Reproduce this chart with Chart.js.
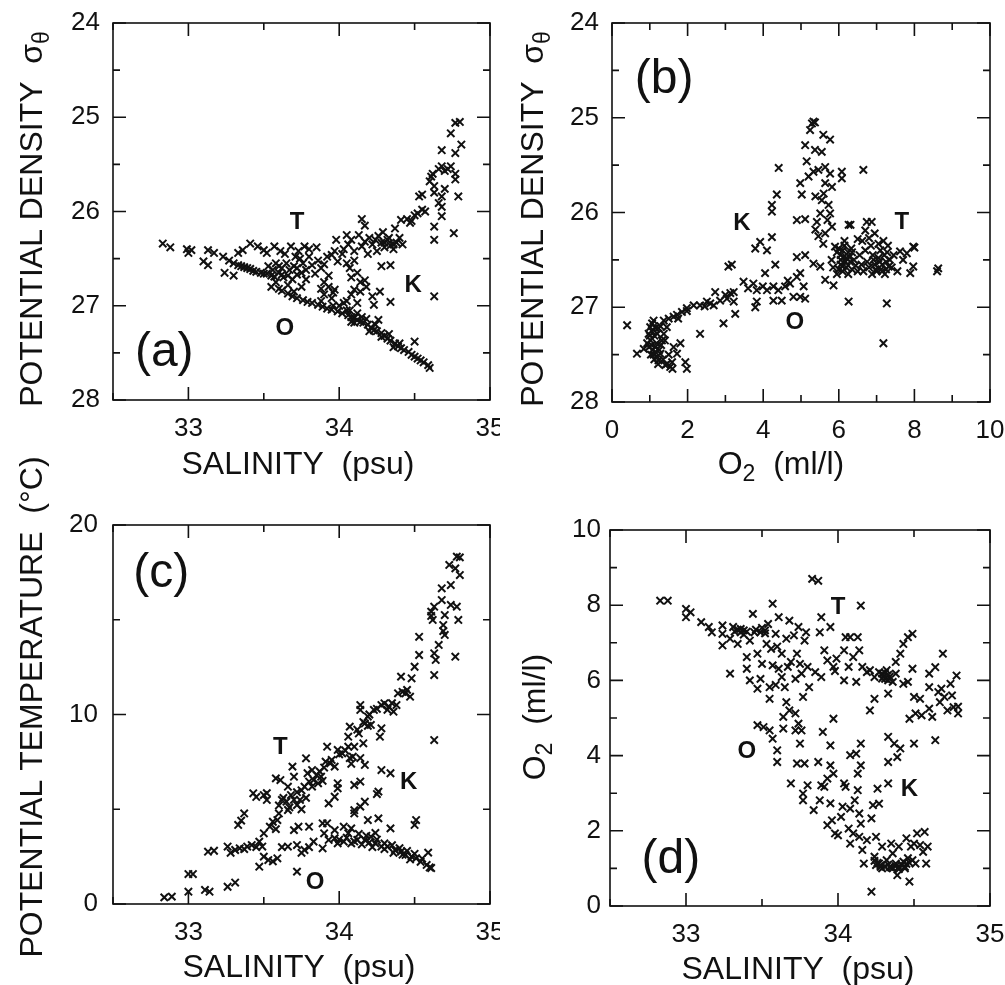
<!DOCTYPE html>
<html>
<head>
<meta charset="utf-8">
<script src="https://cdn.jsdelivr.net/npm/chart.js@4/dist/chart.umd.min.js"></script>
<style>
  body { margin: 0; background: #fff; width: 1005px; height: 985px; position: relative; overflow: hidden; }
  canvas { position: absolute; }
</style>
</head>
<body>
<canvas id="ca" width="500" height="485" style="left:0;top:0"></canvas>
<canvas id="cb" width="505" height="485" style="left:500px;top:0"></canvas>
<canvas id="cc" width="500" height="555" style="left:0;top:430px"></canvas>
<canvas id="cd" width="505" height="545" style="left:500px;top:440px"></canvas>
<script>
// (a) salinity vs potential density
const ptsA = [
  [32.83,26.34],[32.88,26.38],[32.99,26.40],[33.02,26.41],[33.00,26.44],[33.13,26.41],[33.17,26.44],[33.10,26.53],
  [33.13,26.57],[33.23,26.48],[33.24,26.65],[33.30,26.68],[33.27,26.52],[33.33,26.44],[33.36,26.41],[33.41,26.34],
  [33.46,26.37],[33.50,26.41],[33.52,26.44],[33.57,26.37],[33.61,26.42],[33.68,26.37],[33.77,26.37],[33.71,26.48],
  [33.30,26.55],[33.33,26.57],[33.35,26.58],[33.37,26.59],[33.39,26.60],[33.41,26.61],[33.43,26.63],[33.45,26.64],
  [33.48,26.65],[33.50,26.66],[33.52,26.66],[33.55,26.68],[33.57,26.69],
  [33.53,26.58],[33.56,26.62],[33.58,26.55],[33.60,26.65],[33.62,26.60],[33.63,26.70],[33.58,26.75],[33.55,26.80],
  [33.60,26.82],[33.65,26.55],[33.67,26.62],[33.70,26.58],[33.72,26.67],[33.69,26.72],[33.74,26.50],[33.76,26.55],
  [33.78,26.62],[33.80,26.48],[33.82,26.57],[33.84,26.66],[33.86,26.52],[33.88,26.60],[33.90,26.56],[33.92,26.48],
  [33.95,26.46],[33.97,26.42],[33.99,26.53],[33.93,26.68],[33.90,26.75],[33.88,26.82],[33.96,26.86],[33.75,26.80],
  [33.73,26.42],[33.80,26.40],[33.64,26.45],[33.85,26.38],[33.66,26.78],[33.70,26.85],[33.78,26.72],
  [33.60,26.58],[33.62,26.67],[33.66,26.68],[33.72,26.60],[33.75,26.65],
  [34.02,26.45],[34.05,26.55],[34.07,26.60],[34.10,26.52],[34.12,26.65],[34.08,26.70],[34.14,26.75],[34.17,26.73],
  [34.10,26.83],[34.14,26.85],[34.08,26.88],[34.05,26.95],[34.03,26.97],[34.00,27.00],[33.97,26.83],[33.93,26.80],
  [33.90,26.88],[33.95,26.92],[34.12,26.97],[34.23,26.99],[34.26,27.15],[34.28,26.58],[34.34,26.57],[34.27,26.85],
  [34.34,26.96],[34.63,26.90],[34.50,27.38],[34.18,26.80],[34.22,26.90],[34.07,27.05],
  [34.03,26.40],[34.06,26.35],[34.08,26.30],[34.10,26.42],[34.13,26.25],[34.15,26.37],[34.17,26.32],[34.20,26.28],
  [34.22,26.35],[34.24,26.30],[34.26,26.26],[34.28,26.33],[34.30,26.38],[34.32,26.30],[34.34,26.36],[34.36,26.40],
  [34.38,26.33],[34.40,26.28],[34.42,26.35],[34.37,26.18],[34.29,26.22],[34.17,26.15],[34.15,26.08],[34.19,26.45],
  [34.25,26.42],[34.05,26.25],[33.98,26.30],[34.30,26.33],[34.33,26.28],[34.36,26.35],
  [34.41,26.09],[34.45,26.08],[34.48,26.10],[34.50,26.04],[34.52,26.02],[34.55,25.98],[34.53,25.84],[34.55,25.82],
  [34.61,25.63],[34.60,25.68],[34.62,25.60],[34.63,25.73],[34.66,25.55],[34.68,25.52],[34.70,25.57],[34.72,25.55],
  [34.74,25.52],[34.77,25.60],[34.77,25.66],[34.68,25.35],[34.74,25.17],[34.77,25.06],[34.80,25.05],[34.81,25.29],
  [34.77,25.38],[34.63,25.80],[34.66,25.91],[34.68,25.95],[34.68,26.05],[34.63,26.16],[34.63,26.30],[34.76,26.23],
  [34.79,25.84],[34.68,25.84],[34.70,25.76],[34.57,26.00],[34.47,26.12],
  [33.62,26.84],[33.66,26.87],[33.69,26.90],[33.72,26.92],[33.76,26.94],[33.79,26.96],[33.82,26.97],[33.86,26.99],
  [33.89,27.01],[33.92,27.03],[33.95,27.04],[33.99,27.06],[34.02,27.08],[34.06,27.10],[34.08,27.12],[34.10,27.13],
  [34.12,27.15],[34.14,27.17],[34.16,27.18],[34.19,27.20],[34.21,27.23],[34.23,27.26],[34.25,27.27],[34.28,27.29],
  [34.30,27.32],[34.32,27.35],[34.34,27.37],[34.37,27.40],[34.39,27.43],[34.41,27.45],[34.43,27.47],[34.46,27.49],
  [34.48,27.52],[34.50,27.54],[34.52,27.56],[34.54,27.58],[34.56,27.60],[34.59,27.63],[34.60,27.66],
  [34.05,27.05],[34.10,27.18],[34.15,27.12],[34.20,27.27],[34.24,27.20],[34.28,27.33],[34.33,27.30],[34.36,27.44],
  [34.40,27.40],[34.12,27.08],[34.18,27.14],[34.08,27.17],[33.96,27.00],[33.88,26.95]
];

// (b) oxygen vs potential density
const ptsB = [
  [0.40,27.19],[0.66,27.49],[0.84,27.44],[0.93,27.38],[0.97,27.28],[1.01,27.21],[1.06,27.17],[1.10,27.14],
  [1.15,27.42],[1.19,27.52],[1.23,27.56],[1.28,27.49],[1.32,27.35],[1.37,27.28],[1.45,27.21],[1.41,27.61],
  [1.54,27.63],[1.59,27.58],[1.63,27.42],[1.72,27.49],[1.94,27.58],[1.98,27.65],[1.81,27.38],
  [1.00,27.30],[1.02,27.35],[1.05,27.40],[1.08,27.45],[1.10,27.50],[1.05,27.25],[1.12,27.30],[1.15,27.22],
  [1.20,27.28],[1.18,27.38],[1.25,27.45],[1.30,27.40],[1.12,27.55],[1.22,27.60],[1.35,27.55],[1.50,27.50],
  [1.45,27.60],[1.60,27.65],[1.28,27.20],[1.40,27.35],[0.98,27.42],[1.03,27.50],[1.14,27.47],
  [1.23,27.22],[1.37,27.14],[1.50,27.12],[1.63,27.10],[1.72,27.08],[1.85,27.05],[1.98,27.01],[2.16,26.98],
  [2.33,26.98],[2.51,26.94],[2.69,26.98],[2.86,26.93],[3.04,26.91],[3.13,26.85],[3.22,26.84],[3.22,26.94],
  [3.26,27.07],[2.95,27.17],[2.33,27.28],[2.73,26.84],[2.45,26.99],[1.98,27.04],[1.75,27.12],[3.48,26.73],
  [3.74,26.75],[3.83,26.82],[3.83,26.94],[3.79,27.00],[3.99,26.78],[4.27,26.78],[4.40,26.82],[4.27,26.93],
  [4.49,26.93],[4.58,26.78],[4.71,26.75],[4.89,26.68],[4.98,26.64],[5.07,26.78],[4.98,26.89],[5.11,26.91],
  [4.80,26.89],[5.33,26.54],[5.51,26.57],[5.64,26.71],[5.81,26.50],[5.86,26.77],[6.26,26.94],[7.18,27.38],
  [7.27,26.96],[3.60,26.80],[4.10,26.82],[4.65,26.72],[2.60,26.96],[3.00,26.87],
  [3.08,26.57],[3.17,26.55],[3.79,26.38],[3.92,26.31],[4.10,26.40],[4.23,26.26],[4.32,26.55],[4.05,26.64],
  [4.23,25.92],[4.23,25.99],[4.36,25.81],[4.41,25.53],[4.89,26.08],[5.11,26.07],[4.89,26.47],[5.11,26.45],
  [4.98,25.69],[5.02,25.81],[5.15,25.46],[5.11,25.29],[5.24,25.13],[5.29,25.06],[5.33,25.04],[5.37,25.05],
  [5.37,25.34],[5.55,25.36],[5.59,25.18],[5.77,25.23],[5.20,25.62],[5.33,25.57],[5.46,25.55],[5.64,25.52],
  [5.77,25.59],[5.64,25.69],[5.82,25.73],[5.60,25.80],[5.38,25.83],[5.55,25.87],[5.73,25.92],[5.51,26.01],
  [5.42,26.10],[5.77,26.01],[5.70,26.08],[5.82,26.15],[5.38,26.18],[5.46,26.25],[5.59,26.33],[5.64,26.22],
  [6.08,25.57],[6.08,25.64],[6.65,25.55],[6.26,26.13],[6.31,26.13],[6.74,26.10],[6.87,26.10],[6.70,26.19],
  [6.50,26.28],
  [5.90,26.36],[5.95,26.42],[6.00,26.38],[6.05,26.45],[6.10,26.40],[6.15,26.35],[6.20,26.48],[6.25,26.42],
  [6.30,26.52],[6.05,26.55],[6.00,26.60],[5.95,26.65],[6.10,26.62],[6.20,26.58],[6.35,26.60],[6.40,26.50],
  [6.45,26.56],[6.50,26.62],[6.55,26.45],[6.60,26.55],[6.65,26.62],[6.70,26.40],[6.75,26.52],[6.80,26.58],
  [6.85,26.35],[6.90,26.45],[6.95,26.55],[7.00,26.62],[7.05,26.48],[7.10,26.40],[7.15,26.55],[7.20,26.45],
  [7.25,26.60],[7.30,26.35],[7.35,26.50],[7.40,26.58],[7.18,26.30],[7.22,26.65],[6.88,26.65],[7.05,26.33],
  [6.15,26.30],[6.25,26.65],[5.85,26.58],[7.45,26.45],[7.55,26.62],[7.62,26.41],[7.80,26.43],[7.97,26.36],
  [8.00,26.37],[7.97,26.57],[7.89,26.64],[8.63,26.59],[8.60,26.62],[7.70,26.50],[6.62,26.30],[6.80,26.27],
  [6.95,26.22],[6.35,26.42],
  [6.05,26.50],[6.12,26.47],[6.18,26.52],[6.28,26.47],[6.33,26.38],[6.10,26.57],[7.08,26.52],[7.12,26.60],
  [7.25,26.52],[7.32,26.57],[7.15,26.62],[7.28,26.42],[6.98,26.60],[6.92,26.50]
];

// (c) salinity vs potential temperature
const ptsC = [
  [32.84,0.35],[32.89,0.39],[33.00,1.58],[33.03,1.58],[33.00,0.65],[33.11,0.74],[33.14,0.65],[33.26,0.91],
  [33.31,1.13],[33.13,2.76],[33.17,2.81],[33.26,3.03],[33.28,2.70],[33.31,2.85],[33.34,2.94],[33.37,2.90],
  [33.39,3.03],[33.42,3.11],[33.45,3.00],[33.47,3.29],[33.49,3.03],[33.50,2.50],[33.53,2.32],[33.59,2.41],
  [33.56,2.25],[33.47,1.97],[33.72,1.71],[33.62,3.00],[33.66,3.03],[33.72,3.11],[33.77,2.85],[33.75,2.70],
  [33.80,3.00],[33.83,3.29],[33.89,2.94],[33.93,3.38],[33.97,3.47],[33.99,3.20],[34.03,3.29],[34.08,3.20],
  [34.12,3.38],[34.17,3.38],[34.21,3.55],[34.24,3.20],[34.28,3.03],[34.32,3.03],[34.37,2.85],[34.41,2.76],
  [34.44,2.59],[34.48,2.50],[34.51,2.41],[34.54,2.23],[34.58,2.06],[34.60,1.93],[34.61,1.90],[34.59,2.71],
  [34.34,3.99],[34.26,4.52],[34.19,4.43],[34.14,5.14],[34.10,4.95],[34.08,3.99],[34.06,3.73],[34.03,4.08],
  [33.97,3.90],[33.92,4.26],[33.90,3.73],[34.51,4.43],[34.50,4.17],
  [34.00,3.40],[34.05,3.50],[34.10,3.30],[34.15,3.15],[34.20,3.25],[34.25,3.40],[34.30,3.20],[34.35,3.10],
  [34.40,2.95],[34.45,2.80],[34.50,2.65],[34.55,2.40],[34.42,2.60],[34.47,2.35],[34.36,2.70],[34.30,2.90],
  [34.22,3.00],[34.18,3.60],[34.13,3.70],[34.24,3.75],
  [33.33,4.17],[33.35,4.40],[33.37,4.78],[33.43,5.84],[33.45,5.65],[33.50,5.75],[33.52,5.49],[33.52,5.85],
  [33.50,3.73],[33.54,4.08],[33.56,4.34],[33.59,4.43],[33.58,3.95],[33.60,4.78],[33.58,6.63],[33.61,6.54],
  [33.62,5.49],[33.66,4.96],[33.66,6.19],[33.68,5.75],[33.69,7.25],[33.70,6.72],[33.70,3.90],[33.73,4.08],
  [33.72,5.22],[33.74,5.49],[33.75,5.00],[33.77,6.19],[33.78,7.69],[33.79,6.90],[33.80,6.46],[33.82,7.07],
  [33.80,4.08],[33.83,6.54],[33.86,6.37],[33.88,6.72],[33.89,6.50],[33.91,7.51],[33.92,8.30],[33.94,7.42],
  [33.97,7.25],[33.99,6.37],[33.99,8.13],[34.02,7.95],[34.06,8.30],[34.07,9.36],[34.10,8.30],[34.09,7.77],
  [34.07,7.70],[34.06,8.83],[34.13,9.00],[34.16,8.48],[34.17,9.53],[34.14,10.50],[34.14,10.24],[34.19,9.89],
  [34.21,9.45],[34.19,9.40],[34.23,10.24],[34.28,10.50],[34.30,10.59],[34.33,10.41],[34.32,10.25],[34.36,10.15],
  [34.38,10.50],[34.39,11.12],[34.42,11.20],[34.44,11.12],[34.47,10.94],[34.41,12.00],[34.48,11.91],[34.50,12.52],
  [34.53,13.14],[34.53,14.10],[34.61,15.43],[34.62,14.99],[34.61,15.20],[34.63,15.69],[34.68,16.04],[34.68,16.66],
  [34.69,14.72],[34.70,14.20],[34.69,14.40],[34.66,13.67],[34.63,13.23],[34.64,12.88],[34.63,12.08],[34.70,15.25],
  [34.74,15.78],[34.78,15.69],[34.79,14.99],[34.77,13.05],[34.74,16.83],[34.73,17.89],[34.77,17.71],[34.80,17.36],
  [34.78,18.33],[34.80,18.29],[34.63,8.65],[34.28,9.27],[34.27,8.83],[34.28,7.07],[34.34,6.90],[34.26,5.93],
  [34.25,5.80],[34.14,6.46],[34.10,6.28],[34.08,7.40],[34.17,7.34],[34.14,7.70],[34.10,4.78],[34.17,5.40],
  [33.97,5.66],[33.93,5.31],[33.89,4.26],[33.99,6.10],
  [33.60,5.20],[33.63,5.60],[33.65,5.40],[33.67,5.10],[33.70,5.50],[33.72,5.90],[33.75,6.00],[33.78,5.60],
  [33.82,6.20],[33.85,6.80],[33.87,7.00],[33.90,7.20],[33.95,7.60],[34.00,7.90],[34.04,8.10],[34.12,9.20],
  [34.16,9.60],[34.20,10.00],[34.25,10.30],[34.35,10.60],[34.45,11.30]
];

// (d) salinity vs oxygen
const ptsD = [
  [32.83,8.12],[32.88,8.12],[33.00,7.90],[33.00,7.68],[33.03,7.81],[33.10,7.55],[33.15,7.42],[33.17,7.28],
  [33.24,7.46],[33.24,7.24],[33.24,6.93],[33.29,7.11],[33.29,6.18],[33.31,7.42],[33.34,6.97],[33.36,7.37],
  [33.38,7.33],[33.40,6.62],[33.40,6.31],[33.42,7.06],[33.42,6.00],[33.44,7.77],[33.45,7.28],[33.47,6.71],
  [33.47,5.78],[33.49,7.28],[33.49,6.04],[33.50,6.44],[33.52,7.33],[33.53,6.97],[33.54,7.50],[33.55,5.82],
  [33.55,5.51],[33.56,6.84],[33.57,8.04],[33.57,6.40],[33.59,7.24],[33.59,5.88],[33.60,6.90],[33.61,7.68],
  [33.61,6.31],[33.63,6.71],[33.63,6.09],[33.65,5.82],[33.66,7.11],[33.67,6.36],[33.68,7.59],[33.69,6.49],
  [33.71,7.20],[33.72,6.04],[33.73,6.71],[33.74,7.42],[33.75,6.44],[33.76,6.18],[33.77,5.56],[33.78,7.06],
  [33.79,7.28],[33.80,6.36],[33.81,5.82],[33.83,8.70],[33.85,6.22],[33.87,8.65],[33.88,7.28],[33.89,7.68],
  [33.89,6.09],[33.91,6.80],[33.93,6.53],[33.95,7.42],[33.97,6.36],[33.98,6.25],[33.99,6.58],[34.04,6.80],
  [34.04,6.00],[34.05,7.15],[34.07,6.36],[34.08,7.15],[34.10,6.62],[34.12,5.96],[34.13,7.15],[34.14,6.80],
  [34.15,7.99],[34.16,6.36],[34.19,6.22],[34.21,6.27],[34.24,6.09],[34.27,6.22],[34.29,6.18],[34.32,6.27],
  [34.31,6.04],[34.33,6.00],[34.34,6.10],[34.36,5.96],[34.38,6.18],[34.38,6.49],[34.41,6.71],[34.43,6.97],
  [34.46,7.15],[34.49,7.24],[34.43,5.91],[34.46,5.96],[34.49,6.31],[34.50,5.56],[34.54,5.51],[34.51,5.12],
  [34.47,4.98],[34.55,5.07],[34.60,6.18],[34.60,5.82],[34.60,5.25],[34.62,5.03],[34.64,6.35],[34.64,4.41],
  [34.66,5.69],[34.67,5.42],[34.68,5.78],[34.69,6.71],[34.70,5.56],[34.72,5.20],[34.74,5.91],[34.75,5.60],
  [34.76,5.29],[34.78,6.13],[34.79,5.12],[34.79,5.30],
  [33.32,7.30],[33.34,7.35],[33.36,7.28],[33.38,7.22],[33.40,7.30],[33.46,7.35],[33.50,7.40],[33.52,7.25],
  [34.30,6.10],[34.31,6.20],[34.33,6.15],[34.29,6.05],
  [33.47,4.81],[33.51,4.76],[33.55,4.67],[33.57,4.45],[33.60,4.14],[33.60,3.83],[33.64,4.72],[33.64,5.03],
  [33.66,5.42],[33.68,5.20],[33.69,3.26],[33.72,5.12],[33.72,4.67],[33.73,3.79],[33.74,4.85],[33.75,4.32],
  [33.76,4.67],[33.77,2.99],[33.77,2.81],[33.78,3.79],[33.80,3.21],[33.84,2.55],[33.87,3.83],[33.88,2.81],
  [33.89,3.21],[33.90,4.63],[33.91,3.17],[33.93,3.39],[33.95,4.27],[33.95,3.74],[33.95,2.73],[33.97,3.52],
  [33.97,4.98],[33.93,2.15],[33.96,2.28],[33.98,1.93],[34.00,1.88],[34.02,2.37],[34.03,2.64],[34.04,3.26],
  [34.05,3.17],[34.07,2.06],[34.08,4.01],[34.08,2.59],[34.08,1.66],[34.10,1.93],[34.11,2.81],[34.12,4.05],
  [34.13,3.52],[34.13,3.08],[34.14,2.46],[34.14,1.84],[34.15,4.32],[34.15,3.74],[34.15,2.19],[34.16,1.49],
  [34.17,1.13],[34.19,1.75],[34.21,5.20],[34.22,0.38],[34.22,2.33],[34.23,2.68],[34.24,5.51],[34.24,1.31],
  [34.25,1.84],[34.26,3.12],[34.27,2.72],[34.27,1.13],[34.29,1.58],[34.29,1.00],[34.32,1.22],[34.33,5.65],
  [34.33,3.26],[34.33,4.50],[34.33,3.83],[34.34,1.04],[34.35,1.66],[34.36,1.40],[34.37,4.32],[34.38,1.13],
  [34.39,0.82],[34.39,3.96],[34.40,1.58],[34.41,4.19],[34.43,1.18],[34.44,1.04],[34.45,1.80],[34.46,1.27],
  [34.47,0.65],[34.48,1.58],[34.49,1.22],[34.50,1.66],[34.50,4.32],[34.51,1.13],[34.52,1.93],[34.54,1.62],
  [34.56,1.44],[34.57,1.97],[34.58,1.13],[34.59,1.58],[34.25,1.09],[34.28,1.04],[34.36,1.00],[34.40,1.04],
  [34.28,1.08],[34.31,1.05],[34.33,1.10],[34.35,1.02],[34.38,1.06],[34.42,1.10],[34.45,1.12],[34.47,1.15],
  [34.26,1.15],[34.24,1.20],[34.44,1.00],[34.40,0.98]
];

// tick labels
const salTicks = [33, 34, 35];
const sigTicks = [24, 25, 26, 27, 28];
const oxTicksB = [0, 2, 4, 6, 8, 10];
const tempTicks = [0, 10, 20];
const oxTicksD = [0, 2, 4, 6, 8, 10];

// T / K / O water-mass letters, in data units
const notesA = [['T', 33.72, 26.12], ['K', 34.49, 26.78], ['O', 33.64, 27.24]];
const notesB = [['K', 3.44, 26.11], ['T', 7.67, 26.10], ['O', 4.84, 27.16]];
const notesC = [['T', 33.61, 8.28], ['K', 34.46, 6.44], ['O', 33.84, 1.16]];
const notesD = [['T', 34.00, 7.93], ['O', 33.40, 4.10], ['K', 34.47, 3.09]];

const FONT = "'Liberation Sans', Arial, Helvetica, sans-serif";
Chart.defaults.font.family = FONT;
Chart.defaults.color = '#111';

function drawSegs(ctx, segs, cx, cy, rot, size) {
  ctx.save();
  ctx.translate(cx, cy);
  if (rot) ctx.rotate(-Math.PI / 2);
  ctx.textBaseline = 'middle';
  ctx.textAlign = 'left';
  let w = 0;
  segs.forEach(s => {
    ctx.font = (s.sub ? size * 0.72 : size) + 'px ' + FONT;
    w += ctx.measureText(s.t).width;
  });
  let xx = -w / 2;
  segs.forEach(s => {
    ctx.font = (s.sub ? size * 0.72 : size) + 'px ' + FONT;
    ctx.fillText(s.t, xx, s.sub ? size * 0.3 : 0);
    xx += ctx.measureText(s.t).width;
  });
  ctx.restore();
}

function panel(id, pts, o) {
  const deco = {
    id: 'deco_' + id,
    afterDatasetsDraw(chart) {
      const { ctx, chartArea: a, scales: { x, y } } = chart;
      ctx.save();
      ctx.strokeStyle = '#111';
      ctx.lineWidth = 1.6;
      ctx.strokeRect(a.left, a.top, a.right - a.left, a.bottom - a.top);
      // inward ticks on all four sides
      const steps = (sc, step, major, fn) => {
        const lo = Math.min(sc.min, sc.max), hi = Math.max(sc.min, sc.max);
        for (let n = Math.ceil(lo / step - 1e-6); n * step <= hi + 1e-6; n++) {
          const v = n * step;
          const r = v / major;
          fn(sc.getPixelForValue(v), Math.abs(r - Math.round(r)) < 1e-6 ? 13 : 7);
        }
      };
      ctx.beginPath();
      steps(x, o.xStep, o.xMajor, (p, L) => {
        ctx.moveTo(p, a.bottom); ctx.lineTo(p, a.bottom - L);
        ctx.moveTo(p, a.top); ctx.lineTo(p, a.top + L);
      });
      steps(y, o.yStep, o.yMajor, (p, L) => {
        ctx.moveTo(a.left, p); ctx.lineTo(a.left + L, p);
        ctx.moveTo(a.right, p); ctx.lineTo(a.right - L, p);
      });
      ctx.stroke();
      // letters
      ctx.fillStyle = '#111';
      ctx.textAlign = 'center';
      ctx.textBaseline = 'middle';
      ctx.font = 'bold 24px ' + FONT;
      o.notes.forEach(n => ctx.fillText(n[0], x.getPixelForValue(n[1]), y.getPixelForValue(n[2])));
      ctx.font = '48px ' + FONT;
      ctx.fillText(o.tag[0], x.getPixelForValue(o.tag[1]), y.getPixelForValue(o.tag[2]));
      // axis titles
      drawSegs(ctx, o.xTitle, o.xT[0], o.xT[1], false, 32);
      drawSegs(ctx, o.yTitle, o.yT[0], o.yT[1], true, 32);
      ctx.restore();
    }
  };

  new Chart(document.getElementById(id), {
    type: 'scatter',
    data: {
      datasets: [{
        data: pts.map(p => ({ x: p[0], y: p[1] })),
        pointStyle: 'crossRot',
        pointRadius: 5.2,
        borderWidth: 2,
        borderColor: '#111',
        backgroundColor: '#111'
      }]
    },
    options: {
      responsive: false,
      animation: false,
      events: [],
      layout: { padding: { left: 0, top: o.top, right: o.right, bottom: 0 } },
      plugins: { legend: { display: false }, tooltip: { enabled: false } },
      scales: {
        x: {
          type: 'linear', min: o.xMin, max: o.xMax,
          grid: { display: false, drawTicks: false },
          border: { display: false },
          ticks: { padding: 13, font: { size: 26 }, color: '#111', maxRotation: 0, autoSkip: false, callback: v => String(v) },
          afterBuildTicks: s => { s.ticks = o.xTicks.map(v => ({ value: v })); },
          afterFit: s => { s.height = o.xH; s.paddingLeft = 0; s.paddingRight = 0; }
        },
        y: {
          type: 'linear', min: o.yMin, max: o.yMax, reverse: !!o.rev,
          grid: { display: false, drawTicks: false },
          border: { display: false },
          ticks: { padding: o.yPad, font: { size: 26 }, color: '#111', autoSkip: false, callback: v => String(v) },
          afterBuildTicks: s => { s.ticks = o.yTicks.map(v => ({ value: v })); },
          afterFit: s => { s.width = o.yW; s.paddingTop = 0; s.paddingBottom = 0; }
        }
      }
    },
    plugins: [deco]
  });
}

const sigTitle = [{ t: 'POTENTIAL DENSITY  σ' }, { t: 'θ', sub: true }];
const salTitle = [{ t: 'SALINITY  (psu)' }];
const oxTitle = [{ t: 'O' }, { t: '2', sub: true }, { t: '  (ml/l)' }];

panel('ca', ptsA, {
  top: 23, right: 10, xH: 85, yW: 113, yPad: 13,
  xMin: 32.5, xMax: 35, xTicks: salTicks, xStep: 0.5, xMajor: 1,
  yMin: 24, yMax: 28, yTicks: sigTicks, yStep: 0.5, yMajor: 1, rev: true,
  notes: notesA, tag: ['(a)', 32.84, 27.50],
  xTitle: salTitle, xT: [298, 465], yTitle: sigTitle, yT: [33, 219]
});
panel('cb', ptsB, {
  top: 23, right: 15, xH: 83, yW: 112, yPad: 13,
  xMin: 0, xMax: 10, xTicks: oxTicksB, xStep: 1, xMajor: 2,
  yMin: 24, yMax: 28, yTicks: sigTicks, yStep: 0.5, yMajor: 1, rev: true,
  notes: notesB, tag: ['(b)', 1.38, 24.60],
  xTitle: oxTitle, xT: [281, 465], yTitle: sigTitle, yT: [34, 219]
});
panel('cc', ptsC, {
  top: 95, right: 10, xH: 81, yW: 113, yPad: 15,
  xMin: 32.5, xMax: 35, xTicks: salTicks, xStep: 0.5, xMajor: 1,
  yMin: 0, yMax: 20, yTicks: tempTicks, yStep: 5, yMajor: 10,
  notes: notesC, tag: ['(c)', 32.82, 17.42],
  xTitle: salTitle, xT: [299, 538], yTitle: [{ t: 'POTENTIAL TEMPERATURE  (°C)' }], yT: [33, 277]
});
panel('cd', ptsD, {
  top: 90, right: 15, xH: 79, yW: 110, yPad: 9,
  xMin: 32.5, xMax: 35, xTicks: salTicks, xStep: 0.5, xMajor: 1,
  yMin: 0, yMax: 10, yTicks: oxTicksD, yStep: 1, yMajor: 2,
  notes: notesD, tag: ['(d)', 32.90, 1.22],
  xTitle: salTitle, xT: [298, 530], yTitle: oxTitle, yT: [36, 277]
});
</script>
</body>
</html>
